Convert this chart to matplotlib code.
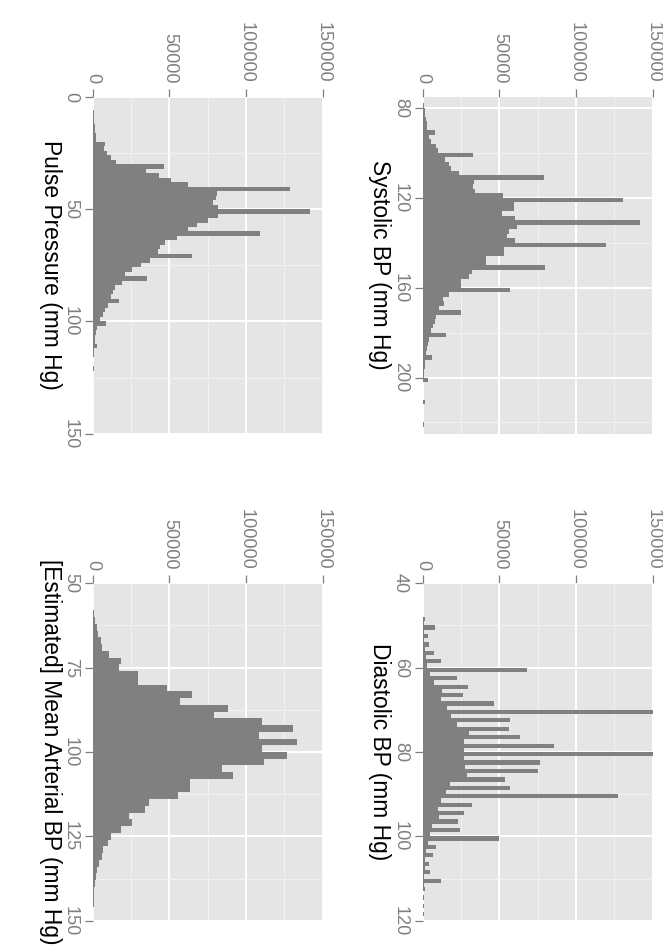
#!/usr/bin/python3

# blood pressure histograms, ggplot-like grey theme, page rotated 90 deg clockwise
import matplotlib
matplotlib.use('Agg')
import matplotlib.pyplot as plt
from matplotlib.ticker import MultipleLocator, FixedLocator
import numpy as np

plt.rcParams['font.family'] = ['Liberation Sans', 'DejaVu Sans']

########################################################################################
# data (counts per bin)

pp_start, pp_bw = 0, 2
pp_counts = [300, 400, 500, 700, 900, 1100, 1300, 1600, 2000, 2400,
             8000, 7400, 9500, 11700, 15000, 46500, 34800, 43500, 51000, 62400,
             128700, 81300, 80400, 78200, 81500, 142000, 81500, 75400, 68000, 62000,
             109000, 55000, 47000, 44000, 42800, 64500, 37400, 31300, 25400, 21000,
             35600, 18900, 14500, 13000, 11700, 17400, 10200, 8000, 6500, 4800,
             8700, 3000, 2200, 1700, 1300, 2500, 900, 700, 500, 400,
             700, 250, 200, 150, 120, 150, 80, 70, 60, 50,
             40, 40, 30, 30, 20]

sbp_start, sbp_bw = 76, 2
sbp_counts = [300, 800, 1300, 1500, 2000, 2500, 3000,
              7800, 4300, 5200, 8700, 10000,
              32800, 14800, 17400, 18700, 23500,
              78900, 33200, 32800, 33900, 52200,
              130400, 59300, 59300, 51700, 60400,
              141900, 61500, 56100, 55000, 60000,
              119800, 52800, 52800, 41300, 41300,
              79600, 32200, 30000, 25200, 25200,
              57100, 17400, 13000, 13700, 10800,
              25000, 8700, 7800, 6500, 5600,
              15400, 4300, 3500, 2600, 2200,
              6100, 1700, 1300, 1000, 800,
              3300, 500, 400, 300, 250,
              1300, 150, 100, 100, 80,
              900, 50, 50]

map_start, map_bw = 50, 2
map_counts = [100, 150, 200, 400, 800,
              1500, 2500, 3700, 5200, 5800,
              10800, 18500, 17400, 29800, 29800,
              48700, 65000, 56900, 88000, 79100,
              110200, 130400, 108700, 133000, 110200,
              127000, 112000, 84100, 91700, 63500,
              63500, 55900, 36900, 34100, 23900,
              25400, 18200, 11700, 10200, 6900,
              5800, 4300, 3000, 2100, 1500,
              1100, 800, 600, 400, 300]

dbp_start, dbp_bw = 40, 1
dbp_counts = [200, 100, 200, 150, 300, 300, 500, 400, 1300, 600,
              8200, 600, 3200, 900, 4300, 1700, 7200, 2200, 11900, 3000,
              68000, 5000, 22600, 7200, 29500, 12600, 26300, 12200, 46700, 15900,
              160000, 18700, 57000, 22400, 56500, 30000, 63500, 26700, 85600, 26700,
              160000, 26700, 76500, 27800, 75000, 28900, 53900, 18000, 56700, 15400,
              127400, 12200, 32200, 10000, 27200, 10800, 23000, 6100, 24100, 5000,
              49500, 3500, 8900, 2200, 6700, 1700, 3900, 1300, 5000, 900,
              11700, 600, 1700, 400, 900, 300, 700, 200, 600, 100]

count_ticks = [0, 50000, 100000, 150000]

########################################################################################
def PlotHist(ax, start, bw, counts, lims, ticks, minor, label):
    counts = np.array(counts)
    edges = start + bw * np.arange(len(counts))
    ax.set_facecolor('#E5E5E5')
    ax.barh(edges + bw / 2., counts, height=bw, color='#808080', linewidth=0, zorder=2)
    ax.set_xlim(0, 150000)
    ax.set_ylim(lims[1], lims[0])
    ax.xaxis.set_major_locator(FixedLocator(count_ticks))
    ax.xaxis.set_minor_locator(FixedLocator([25000, 75000, 125000]))
    ax.yaxis.set_major_locator(FixedLocator(ticks))
    ax.yaxis.set_minor_locator(FixedLocator(minor))
    ax.grid(which='major', color='white', linewidth=1.4, zorder=1)
    ax.grid(which='minor', color='#F2F2F2', linewidth=0.7, zorder=1)
    ax.set_axisbelow(True)
    for s in ax.spines.values():
        s.set_visible(False)
    ax.xaxis.tick_top()
    ax.tick_params(which='major', direction='out', length=5.8, width=0.9,
                   color='#7F7F7F', labelcolor='#7F7F7F', labelsize=13.1, pad=4)
    ax.tick_params(which='minor', length=0)
    ax.set_xticklabels([str(t) for t in count_ticks], rotation=-90)
    ax.set_yticklabels([str(t) for t in ticks], rotation=-90, va='center')
    ax.text(-42.7 / 230., 0.5, label, transform=ax.transAxes, rotation=-90,
            ha='center', va='center', fontsize=16.4, color='black')

########################################################################################
W, H = 663., 951.
fig = plt.figure(figsize=(W / 100., H / 100.), dpi=100)
fig.patch.set_facecolor('white')

def Rect(x0, y0, x1, y1):
    return [x0 / W, 1 - y1 / H, (x1 - x0) / W, (y1 - y0) / H]

ax_pp = fig.add_axes(Rect(92.7, 96.7, 322.7, 433.7))
ax_sbp = fig.add_axes(Rect(422.7, 96.7, 652.7, 433.7))
ax_map = fig.add_axes(Rect(92.7, 583.3, 322.7, 920.7))
ax_dbp = fig.add_axes(Rect(422.7, 583.3, 652.7, 920.7))

PlotHist(ax_pp, pp_start, pp_bw, pp_counts, (0, 150), [0, 50, 100, 150], [25, 75, 125],
         'Pulse Pressure (mm Hg)')
PlotHist(ax_sbp, sbp_start, sbp_bw, sbp_counts, (75, 225), [80, 120, 160, 200], [100, 140, 180, 220],
         'Systolic BP (mm Hg)')
PlotHist(ax_map, map_start, map_bw, map_counts, (50, 150), [50, 75, 100, 125, 150],
         [62.5, 87.5, 112.5, 137.5], '[Estimated] Mean Arterial BP (mm Hg)')
PlotHist(ax_dbp, dbp_start, dbp_bw, dbp_counts, (40, 120), [40, 60, 80, 100, 120], [50, 70, 90, 110],
         'Diastolic BP (mm Hg)')

fig.savefig('out.png', dpi=100)
